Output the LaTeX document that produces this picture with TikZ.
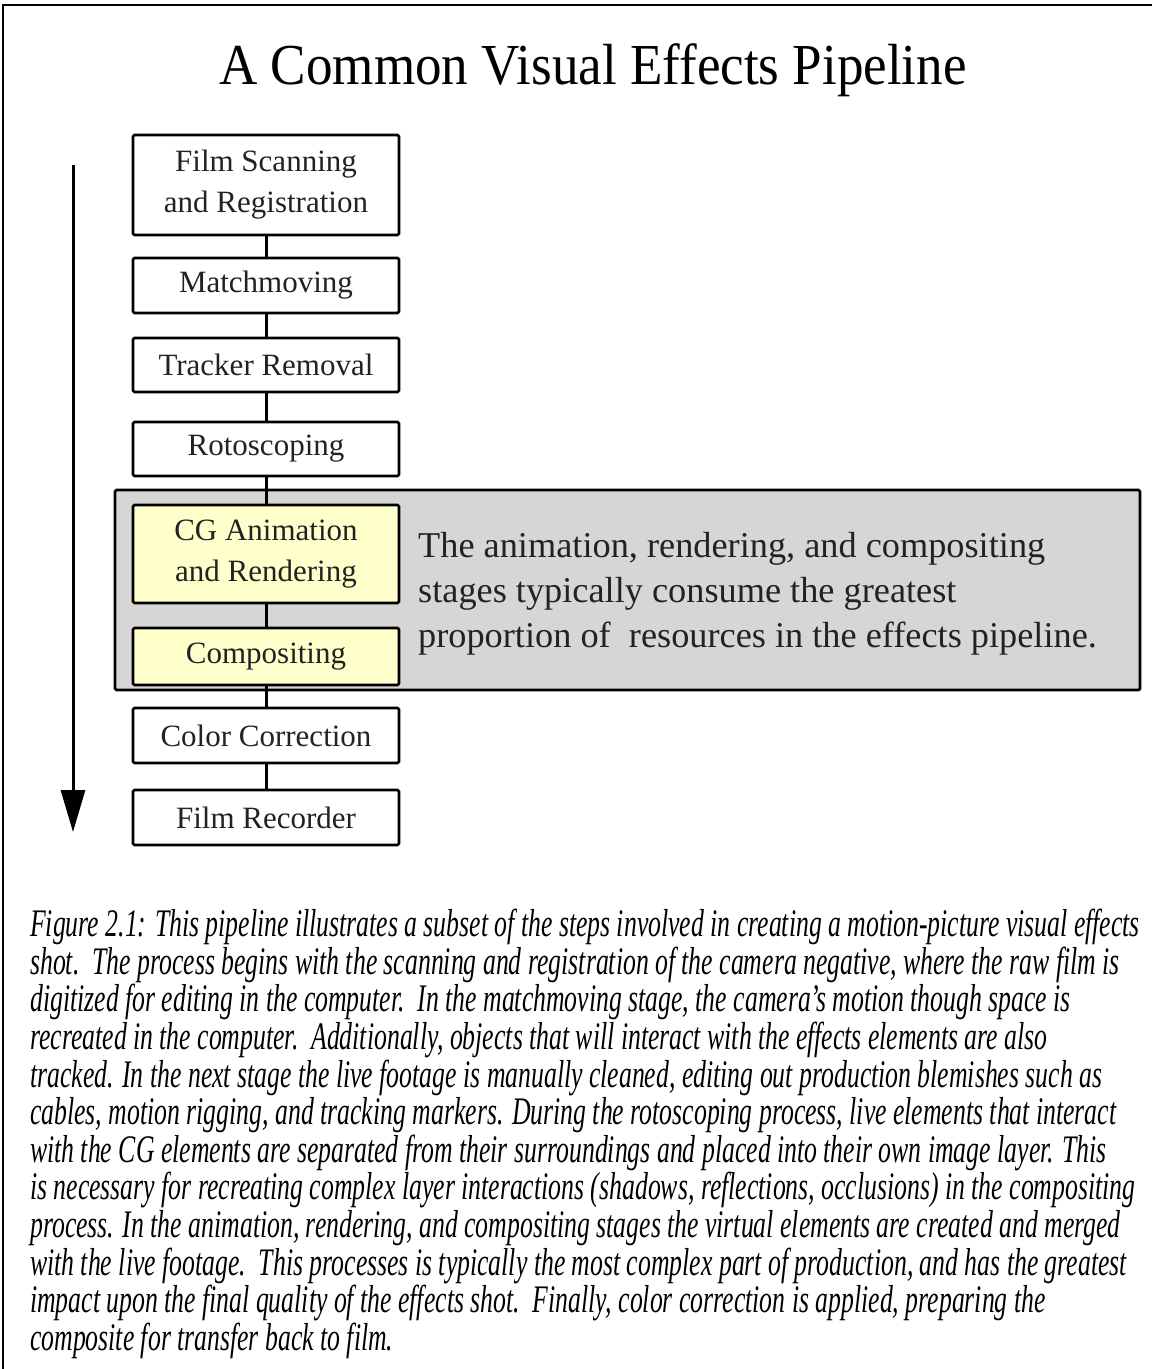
\documentclass[tikz,border=0pt]{standalone}
\usepackage{fontspec}
\setmainfont{Liberation Serif}
\newfontfamily\titlefont[FakeStretch=0.915]{Liberation Serif}
\newfontfamily\capfont[FakeStretch=0.66]{Liberation Serif}
\usetikzlibrary{arrows.meta}
\definecolor{grayfill}{HTML}{D6D6D6}
\definecolor{yellowfill}{HTML}{FFFFCC}
\definecolor{ink}{HTML}{222222}
\begin{document}
\begin{tikzpicture}[x=1pt,y=-1pt,
  stagebox/.style={draw=black, line width=2.8pt, fill=white, minimum width=266pt,
    inner sep=0pt, align=center, text=ink, rounded corners=1.5pt,
    font=\fontsize{31}{41}\selectfont},
  hlbox/.style={stagebox, fill=yellowfill},
  link/.style={line width=3pt, draw=black},
  frameline/.style={line width=2.6pt, draw=black}]
\useasboundingbox (0,0) rectangle (1152,1369);
% frame
\coordinate (ftl) at (3,5);
\coordinate (ftr) at (1152,5);
\coordinate (fbl) at (3,1369);
\draw[frameline] (ftr) -- (ftl) -- (fbl);
% title
\node (title) at (593,70) {\titlefont\fontsize{58}{60}\selectfont A Common Visual Effects Pipeline};
% gray group
\node[draw=black, line width=2.8pt, fill=grayfill, rounded corners=1.5pt, minimum width=1025pt, minimum height=200pt, inner sep=0pt] (grp) at (627.5,590) {};
% stages
\node[stagebox, minimum height=100pt] (fs) at (266,185) {Film Scanning\\and Registration};
\node[stagebox, minimum height=55pt] (mm) at (266,285.5) {Matchmoving};
\node[stagebox, minimum height=54pt] (tr) at (266,365) {Tracker Removal};
\node[stagebox, minimum height=54pt] (ro) at (266,449) {Rotoscoping};
\node[hlbox, minimum height=98pt] (cg) at (266,554) {CG Animation\\and Rendering};
\node[hlbox, minimum height=57pt] (co) at (266,656.5) {Compositing};
\node[stagebox, minimum height=55pt] (cc) at (266,735.5) {Color Correction};
\node[stagebox, minimum height=55pt] (fr) at (266,817.5) {Film Recorder};
% links
\draw[link] (fs) -- (mm);
\draw[link] (mm) -- (tr);
\draw[link] (tr) -- (ro);
\draw[link] (ro) -- (cg);
\draw[link] (cg) -- (co);
\draw[link] (co) -- (cc);
\draw[link] (cc) -- (fr);
% note
\node[anchor=west, align=left, inner sep=0pt, text=ink, font=\fontsize{36.3}{45}\selectfont] (note) at (418,594)
  {The animation, rendering, and compositing\\stages typically consume the greatest\\proportion of\ \ resources in the effects pipeline.};
% time arrow
\coordinate (as) at (73,165);
\coordinate (ae) at (73,832);
\draw[line width=3pt, -{Triangle[width=24pt,length=42pt]}] (as) -- (ae);
% caption
\node[anchor=north west, align=left, inner sep=0pt, text=black, font=\capfont\itshape\fontsize{39}{37.6}\selectfont] (cap) at (30,909)
  {Figure 2.1: This pipeline illustrates a subset of the steps involved in creating a motion-picture visual effects\\
   shot.\ \ The process begins with the scanning and registration of the camera negative, where the raw film is\\
   digitized for editing in the computer.\ \ In the matchmoving stage, the camera’s motion though space is\\
   recreated in the computer.\ \ Additionally, objects that will interact with the effects elements are also\\
   tracked. In the next stage the live footage is manually cleaned, editing out production blemishes such as\\
   cables, motion rigging, and tracking markers. During the rotoscoping process, live elements that interact\\
   with the CG elements are separated from their surroundings and placed into their own image layer. This\\
   is necessary for recreating complex layer interactions (shadows, reflections, occlusions) in the compositing\\
   process. In the animation, rendering, and compositing stages the virtual elements are created and merged\\
   with the live footage.\ \ This processes is typically the most complex part of production, and has the greatest\\
   impact upon the final quality of the effects shot.\ \ Finally, color correction is applied, preparing the\\
   composite for transfer back to film.};
\end{tikzpicture}
\end{document}
